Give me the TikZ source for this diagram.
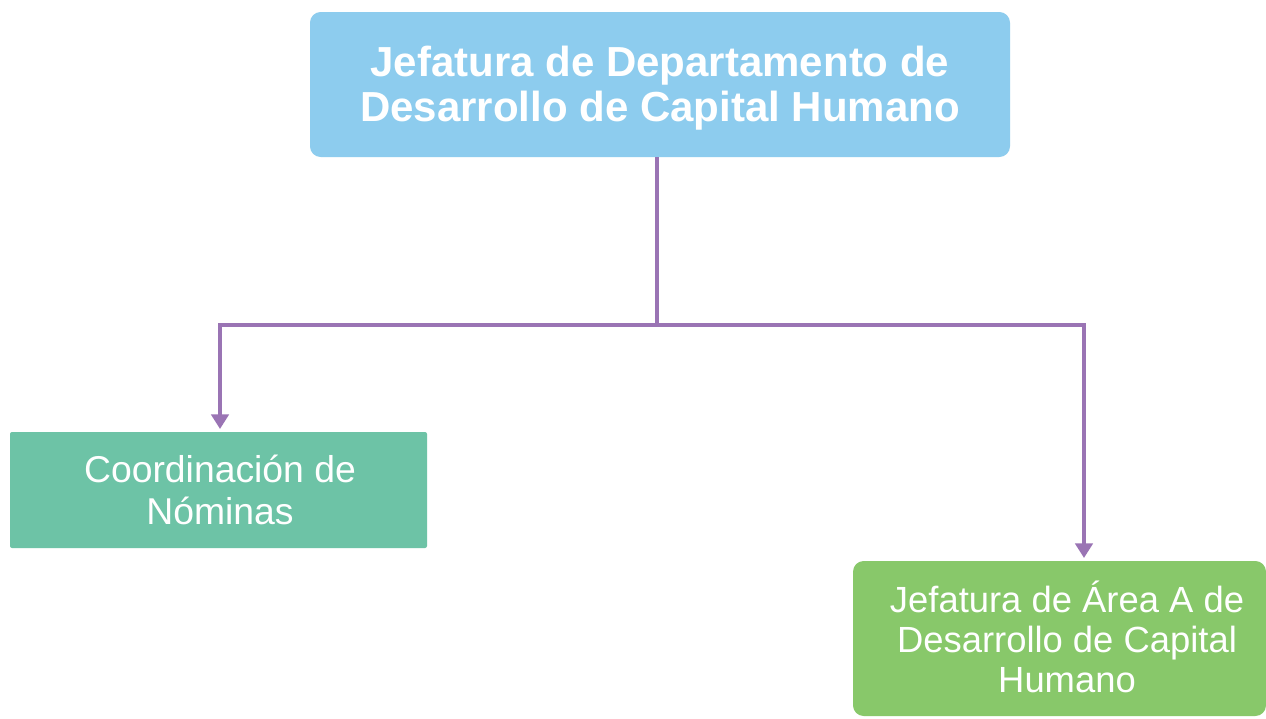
\documentclass[tikz,border=0pt]{standalone}
\usepackage{fontspec}
\setmainfont{Liberation Sans}
\usetikzlibrary{arrows.meta}
\definecolor{topblue}{HTML}{8DCCEE}
\definecolor{teal}{HTML}{6DC3A6}
\definecolor{leaf}{HTML}{88C86A}
\definecolor{conn}{HTML}{9A74B4}
\tikzset{
  box/.style={draw=none, text=white, align=center, inner sep=0pt},
  link/.style={draw=conn, line width=3.3pt},
  linkarrow/.style={link, -{Triangle[width=13pt,length=11pt]}},
}
\begin{document}
\begin{tikzpicture}[x=0.75pt, y=-0.75pt]
\useasboundingbox (0,0) rectangle (1266,718);
\fill[white] (0,0) rectangle (1266,718);
% top box
\fill[topblue, rounded corners=8pt] (310,12) rectangle (1010,157);
\node[box, font=\fontsize{31.5}{34}\selectfont\bfseries] (top) at (660,88) {Jefatura de Departamento de\\Desarrollo de Capital Humano};
\coordinate (topb) at (657,157);
% left box
\fill[teal, rounded corners=1.5pt] (10,432) rectangle (427,548);
\node[box, font=\fontsize{28}{31}\selectfont] (left) at (220,490) {Coordinación de\\Nóminas};
\coordinate (leftt) at (220,429);
% right box
\fill[leaf, rounded corners=8pt] (853,561) rectangle (1266,716);
\node[box, font=\fontsize{27.3}{30}\selectfont] (right) at (1067,637) {Jefatura de Área A de\\Desarrollo de Capital\\Humano};
\coordinate (rightt) at (1084,558);
% connectors
\coordinate (mid) at (657,325);
\coordinate (lc) at (220,325);
\coordinate (rc) at (1084,325);
\draw[link] (topb) -- (mid);
\draw[linkarrow] (mid) -- (lc) -- (leftt);
\draw[linkarrow] (mid) -- (rc) -- (rightt);
\end{tikzpicture}
\end{document}
